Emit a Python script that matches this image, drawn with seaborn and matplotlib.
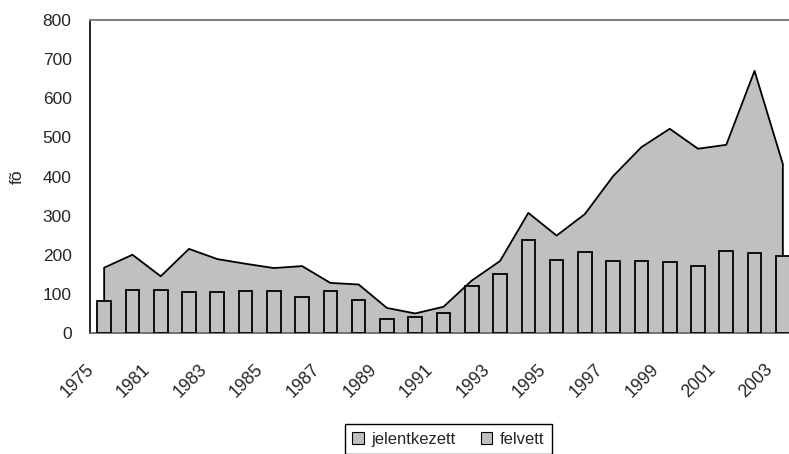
import matplotlib
matplotlib.use('Agg')
import matplotlib.pyplot as plt
import matplotlib.transforms as mtrans
from matplotlib.patches import Patch
import seaborn as sns
import pandas as pd
import numpy as np

# data
years = ['1975', '1980', '1981', '1982', '1983', '1984', '1985', '1986', '1987',
         '1988', '1989', '1990', '1991', '1992', '1993', '1994', '1995', '1996',
         '1997', '1998', '1999', '2000', '2001', '2002', '2003']
jelentkezett = [167, 200, 145, 215, 189, 177, 166, 171, 128, 124, 64, 50, 67,
                134, 184, 307, 249, 304, 401, 475, 522, 471, 481, 670, 432]
felvett = [83, 111, 111, 106, 106, 108, 108, 93, 108, 85, 36, 42, 50,
           121, 151, 239, 187, 207, 184, 184, 182, 172, 210, 205, 197]
y_ticks = [0, 100, 200, 300, 400, 500, 600, 700, 800]

GRAY = '#C0C0C0'

sns.set_style('white')
plt.rcParams['font.family'] = ['Liberation Sans', 'DejaVu Sans']

fig = plt.figure(figsize=(7.89, 4.54), dpi=100)
ax = fig.add_axes([0.1141, 0.2665, 0.8960, 0.6894])

# bars (felvett)
df = pd.DataFrame({'ev': years, 'felvett': felvett})
sns.barplot(data=df, x='ev', y='felvett', color=GRAY, saturation=1, width=0.48,
            edgecolor='black', linewidth=1.3, ax=ax, zorder=3)

# area (jelentkezett) behind the bars
x = np.arange(len(years))
ax.fill_between(x, jelentkezett, color=GRAY, linewidth=0, zorder=1)
ax.plot(np.r_[x[0], x, x[-1]], np.r_[0, jelentkezett, 0],
        color='black', lw=1.3, zorder=2)

ax.set_xlim(-0.5, len(years) - 0.5)
ax.set_ylim(0, 800)
ax.set_yticks(y_ticks)

# labels on every other category, tick marks between categories
ax.set_xticks(x[::2])
ax.set_xticklabels(years[::2], rotation=45, ha='right', rotation_mode='anchor')
ax.set_xticks(np.arange(-0.5, len(years), 1), minor=True)
ax.tick_params(axis='x', which='major', length=0, pad=8, labelsize=12.8)
ax.tick_params(axis='x', which='minor', direction='inout', length=9,
               width=1, color='#707070')
ax.tick_params(axis='y', direction='inout', length=8.6, width=1, pad=9,
               labelsize=12.5, color='black')

# shift the rotated labels like the reference (left and down)
shift = mtrans.ScaledTranslation(-0.19, -0.17, fig.dpi_scale_trans)
for lab in ax.get_xticklabels():
    lab.set_transform(lab.get_transform() + shift)

ax.set_xlabel('')
ax.set_ylabel('fõ', fontsize=12.5)
ax.yaxis.set_label_coords(-0.093, 0.5)

ax.spines['left'].set_color('black')
ax.spines['left'].set_linewidth(1.2)
ax.spines['bottom'].set_color('#606060')
ax.spines['bottom'].set_linewidth(1.2)
ax.spines['top'].set_color('#808080')
ax.spines['top'].set_linewidth(1.5)
ax.spines['right'].set_visible(False)

handles = [Patch(facecolor=GRAY, edgecolor='black', linewidth=0.8, label='jelentkezett'),
           Patch(facecolor=GRAY, edgecolor='black', linewidth=0.8, label='felvett')]
leg = fig.legend(handles=handles, loc='upper center', bbox_to_anchor=(0.568, 0.066),
                 ncol=2, frameon=True, fancybox=False, edgecolor='black',
                 fontsize=12, handlelength=0.7, handleheight=0.7,
                 handletextpad=0.45, columnspacing=1.5, borderpad=0.45,
                 borderaxespad=0, framealpha=1)
leg.get_frame().set_linewidth(1.0)

fig.savefig('out.png', dpi=100)
